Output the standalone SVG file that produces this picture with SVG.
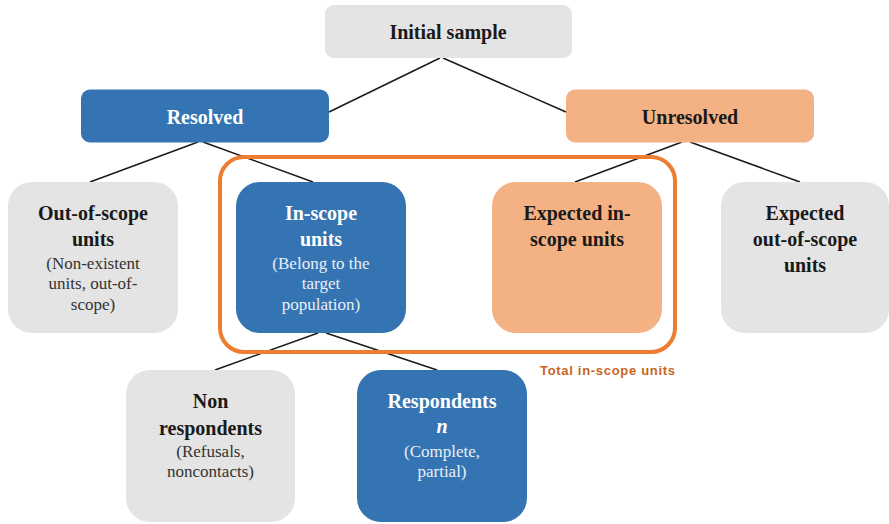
<svg xmlns="http://www.w3.org/2000/svg" width="889" height="524" viewBox="0 0 889 524">
<style>
.gray{fill:#E3E4E3}
.blue{fill:#3474B2}
.orange{fill:#F4B183}
.t{font-family:"Liberation Serif","Times New Roman",serif;font-weight:bold;font-size:20px;text-anchor:middle}
.s{font-family:"Liberation Serif","Times New Roman",serif;font-size:17px;text-anchor:middle}
.dk{fill:#1A1A1A}
.sd{fill:#333333}
.wt{fill:#FFFFFF}
.sw{fill:#E9EFF7}
.conn line{stroke:#1A1A1A;stroke-width:1.5}
</style>
<rect width="889" height="524" fill="#FFFFFF"/>
<g id="connectors" class="conn">
<line x1="440" y1="58" x2="329" y2="112"/>
<line x1="443" y1="58" x2="566" y2="112"/>
<line x1="198" y1="142" x2="90" y2="182"/>
<line x1="203" y1="142" x2="313" y2="182"/>
<line x1="682" y1="142" x2="575" y2="182"/>
<line x1="690" y1="142" x2="800" y2="182"/>
<line x1="318" y1="333" x2="215" y2="370"/>
<line x1="326" y1="333" x2="437" y2="370"/>
</g>
<g id="total-frame">
<rect x="220" y="157" width="455" height="195" rx="24" fill="none" stroke="#ED7D31" stroke-width="4"/>
<text x="540" y="375" font-family="'Liberation Sans',Arial,sans-serif" font-weight="bold" font-size="13" fill="#C8641E" textLength="135">Total in-scope units</text>
</g>
<g id="initial-sample">
<rect class="gray" x="325" y="5" width="247" height="53" rx="9"/>
<text class="t dk" x="448" y="39">Initial sample</text>
</g>
<g id="resolved">
<rect class="blue" x="81" y="89.5" width="248" height="53" rx="9"/>
<text class="t wt" x="205" y="124">Resolved</text>
</g>
<g id="unresolved">
<rect class="orange" x="566" y="89.5" width="248" height="53" rx="9"/>
<text class="t dk" x="690" y="124">Unresolved</text>
</g>
<g id="out-of-scope">
<rect class="gray" x="8" y="182" width="170" height="151" rx="24"/>
<text class="t dk" x="93" y="220">Out-of-scope</text>
<text class="t dk" x="93" y="246">units</text>
<text class="s sd" x="93" y="269">(Non-existent</text>
<text class="s sd" x="93" y="289">units, out-of-</text>
<text class="s sd" x="93" y="310">scope)</text>
</g>
<g id="in-scope">
<rect class="blue" x="236" y="182" width="170" height="151" rx="24"/>
<text class="t wt" x="321" y="220">In-scope</text>
<text class="t wt" x="321" y="246">units</text>
<text class="s sw" x="321" y="269">(Belong to the</text>
<text class="s sw" x="321" y="289">target</text>
<text class="s sw" x="321" y="310">population)</text>
</g>
<g id="expected-in-scope">
<rect class="orange" x="492" y="182" width="170" height="151" rx="24"/>
<text class="t dk" x="577" y="220">Expected in-</text>
<text class="t dk" x="577" y="246">scope units</text>
</g>
<g id="expected-out-of-scope">
<rect class="gray" x="721" y="182" width="168" height="151" rx="24"/>
<text class="t dk" x="805" y="220">Expected</text>
<text class="t dk" x="805" y="246">out-of-scope</text>
<text class="t dk" x="805" y="272">units</text>
</g>
<g id="non-respondents">
<rect class="gray" x="126" y="370" width="169" height="152" rx="24"/>
<text class="t dk" x="210.5" y="408">Non</text>
<text class="t dk" x="210.5" y="435">respondents</text>
<text class="s sd" x="210.5" y="457">(Refusals,</text>
<text class="s sd" x="210.5" y="477">noncontacts)</text>
</g>
<g id="respondents">
<rect class="blue" x="357" y="370" width="170" height="152" rx="24"/>
<text class="t wt" x="442" y="408">Respondents</text>
<text class="t wt" x="442" y="433" font-style="italic">n</text>
<text class="s sw" x="442" y="457">(Complete,</text>
<text class="s sw" x="442" y="477">partial)</text>
</g>
</svg>
